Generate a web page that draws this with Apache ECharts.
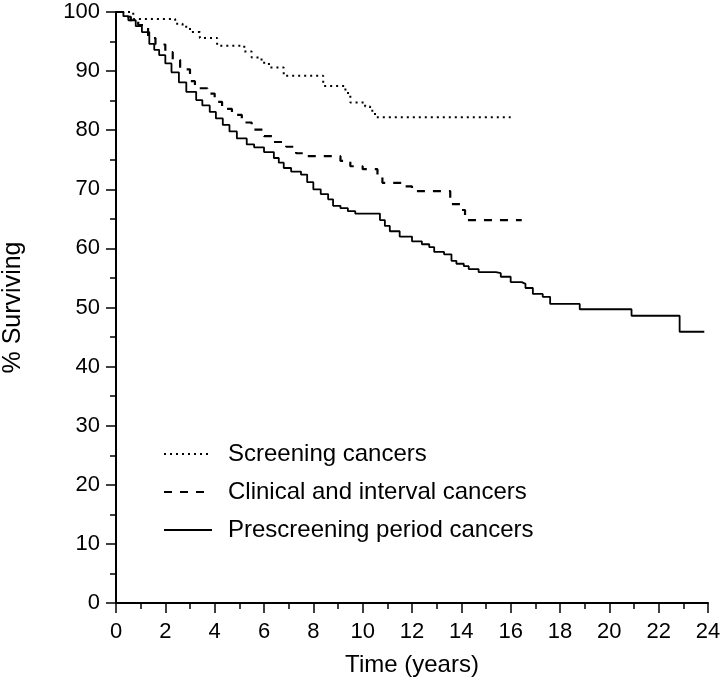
<!DOCTYPE html>
<html>
<head>
<meta charset="utf-8">
<script src="https://cdn.jsdelivr.net/npm/echarts@6/dist/echarts.min.js"></script>
<style>
  html, body { margin: 0; padding: 0; background: #fff; }
  #chart { width: 721px; height: 689px; }
</style>
</head>
<body>
<div id="chart"></div>
<script>
// Kaplan-Meier step points (time in years, % surviving)
var screeningT = [0, 0.7, 2.4, 2.7, 3.0, 3.4, 4.1, 5.2, 5.5, 5.9, 6.2, 6.8, 8.4, 9.3, 9.5, 10.1, 10.3, 10.5, 16.0];
var screeningS = [100, 98.8, 98.0, 97.5, 96.6, 95.6, 94.3, 93.3, 92.3, 91.4, 90.6, 89.2, 87.5, 86.3, 84.7, 84.0, 83.3, 82.2, 82.2];

var clinicalT = [0, 0.3, 0.6, 0.9, 1.3, 1.6, 2.0, 2.3, 2.6, 3.0, 3.2, 3.7, 4.0, 4.3, 4.7, 5.1, 5.5, 6.0, 6.4, 6.9, 7.3, 7.7, 9.1, 9.5, 10.0, 10.6, 10.8, 11.65, 12.0, 13.55, 13.95, 14.15, 16.45];
var clinicalS = [100, 99.2, 98.4, 97.8, 95.6, 94.5, 93.2, 91.9, 90.3, 88.3, 87.1, 86.2, 84.8, 83.6, 82.6, 81.3, 80.1, 79.0, 78.0, 77.2, 76.1, 75.6, 74.8, 73.9, 73.4, 72.4, 71.1, 70.5, 69.7, 67.5, 66.5, 64.8, 64.8];

var prescreenT = [0, 0.3, 0.5, 0.8, 1.05, 1.35, 1.55, 1.75, 2.0, 2.25, 2.55, 2.85, 3.25, 3.5, 3.8, 4.05, 4.33, 4.6, 4.9, 5.3, 5.6, 6.0, 6.4, 6.6, 6.8, 7.1, 7.5, 7.75, 8.0, 8.3, 8.6, 8.8, 9.1, 9.4, 9.7, 10.7, 10.9, 11.1, 11.5, 12.0, 12.4, 12.7, 12.9, 13.3, 13.6, 13.8, 14.1, 14.3, 14.7, 15.4, 15.6, 16.0, 16.45, 16.6, 16.9, 17.3, 17.6, 18.8, 20.9, 22.85, 23.85];
var prescreenS = [100, 99.3, 98.6, 97.6, 96.6, 94.6, 93.6, 92.7, 91.3, 89.8, 88.1, 86.5, 85.1, 84.2, 83.1, 82.0, 80.9, 79.8, 78.6, 77.6, 77.1, 76.3, 75.3, 74.5, 73.6, 73.0, 72.5, 71.2, 70.0, 69.2, 68.3, 67.2, 66.8, 66.3, 65.9, 64.8, 63.8, 62.9, 62.0, 61.2, 60.7, 60.2, 59.4, 59.0, 57.9, 57.4, 57.0, 56.5, 56.0, 55.8, 55.2, 54.3, 54.0, 53.3, 52.3, 51.8, 50.6, 49.7, 48.6, 45.9, 45.9];

var seriesNames = ['Screening cancers', 'Clinical and interval cancers', 'Prescreening period cancers'];

function pairs(t, s) {
  var out = [];
  for (var i = 0; i < t.length; i++) out.push([t[i], s[i]]);
  return out;
}

var chart = echarts.init(document.getElementById('chart'));
var fontFam = 'Liberation Sans, Arial, Helvetica, sans-serif';

chart.setOption({
  animation: false,
  backgroundColor: '#ffffff',
  grid: { left: 116, right: 13, top: 12, bottom: 86, containLabel: false, outerBoundsMode: 'none' },
  legend: {
    orient: 'vertical',
    left: 158,
    top: 437,
    itemWidth: 48,
    itemHeight: 14,
    itemGap: 14,
    itemStyle: { opacity: 0 },
    textStyle: { fontSize: 24, color: '#000', fontFamily: fontFam, padding: [0, 0, 0, 11] },
    data: seriesNames
  },
  xAxis: {
    type: 'value',
    min: 0, max: 24, interval: 2,
    name: 'Time (years)',
    nameLocation: 'middle',
    nameGap: 50,
    nameTextStyle: { fontSize: 24, color: '#000', fontFamily: fontFam },
    axisLine: { show: true, onZero: false, lineStyle: { color: '#000', width: 2 } },
    axisTick: { show: true, length: 10, lineStyle: { color: '#000', width: 1.5 } },
    minorTick: { show: true, splitNumber: 2, length: 6, lineStyle: { color: '#000', width: 1.5 } },
    axisLabel: { fontSize: 22, color: '#000', fontFamily: fontFam, margin: 18 },
    splitLine: { show: false }
  },
  yAxis: {
    type: 'value',
    min: 0, max: 100, interval: 10,
    name: '% Surviving',
    nameLocation: 'middle',
    nameGap: 90,
    nameRotate: 90,
    nameTextStyle: { fontSize: 25, color: '#000', fontFamily: fontFam },
    axisLine: { show: true, onZero: false, lineStyle: { color: '#000', width: 2 } },
    axisTick: { show: true, length: 10, lineStyle: { color: '#000', width: 1.5 } },
    minorTick: { show: true, splitNumber: 2, length: 6, lineStyle: { color: '#000', width: 1.5 } },
    axisLabel: { fontSize: 22, color: '#000', fontFamily: fontFam, margin: 16 },
    splitLine: { show: false }
  },
  series: [
    {
      name: seriesNames[0], type: 'line', step: 'end', symbol: 'none',
      data: pairs(screeningT, screeningS),
      lineStyle: { color: '#000', width: 2, type: [2, 4] },
      itemStyle: { color: '#000' }
    },
    {
      name: seriesNames[1], type: 'line', step: 'end', symbol: 'none',
      data: pairs(clinicalT, clinicalS),
      lineStyle: { color: '#000', width: 2.2, type: [8, 8] },
      itemStyle: { color: '#000' }
    },
    {
      name: seriesNames[2], type: 'line', step: 'end', symbol: 'none',
      data: pairs(prescreenT, prescreenS),
      lineStyle: { color: '#000', width: 1.8, type: 'solid' },
      itemStyle: { color: '#000' }
    }
  ]
});
</script>
</body>
</html>
